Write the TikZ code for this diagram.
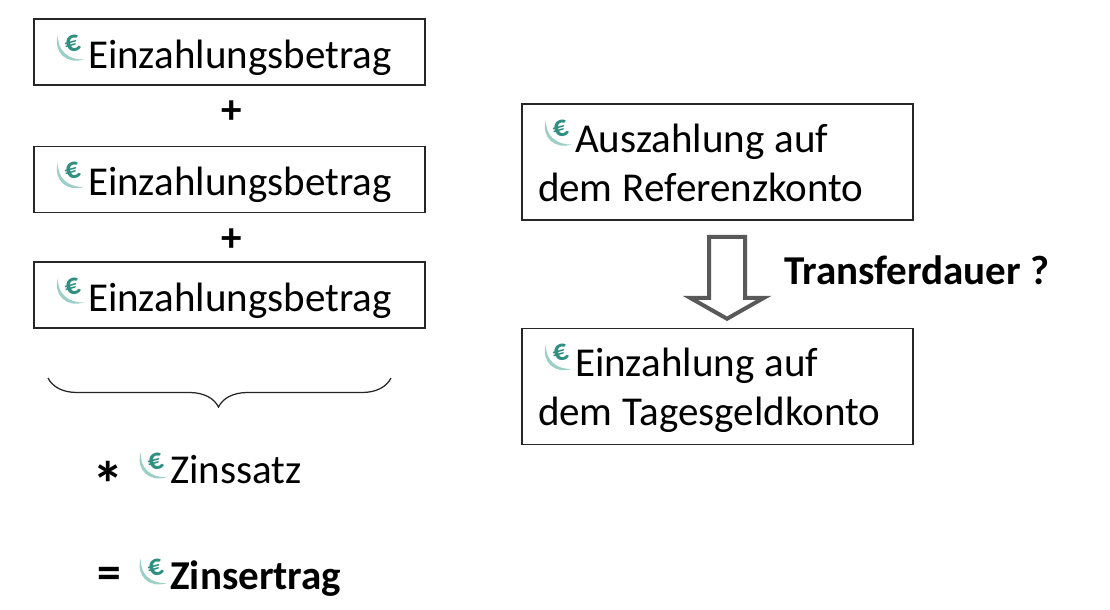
\documentclass[tikz,border=0pt]{standalone}
\usepackage{fontspec}
\setmainfont{Carlito}
\usetikzlibrary{positioning,calc,decorations.pathreplacing}
\definecolor{logoteal}{HTML}{2F8F80}
\definecolor{logolight}{HTML}{9CCFC6}
\newcommand{\bigtext}{\fontsize{23.35}{27.9}\selectfont}
\newcommand{\narrowspaces}{\spaceskip=5.8pt\relax}

\tikzset{
  amountbox/.style={draw=black!85, line width=0.03cm, minimum width=7.82cm, minimum height=1.32cm,
    text width=7.18cm, inner xsep=0.32cm, inner ysep=0pt, align=left, font=\bigtext,
    text height=0.64cm, text depth=0pt},
  twolinebox/.style={amountbox, minimum height=2.32cm, text height=0.8cm, text depth=1.2cm},
  plainlabel/.style={font=\bigtext, inner sep=0pt},
  boldlabel/.style={font=\bigtext\bfseries, inner sep=0pt},
  logo/.pic={
    \fill[logolight] (-0.24,0.28) .. controls (-0.36,-0.08) and (-0.06,-0.34) .. (0.28,-0.22)
      .. controls (-0.02,-0.25) and (-0.28,-0.04) .. (-0.24,0.28) -- cycle;
    \node[text=logoteal, font=\fontsize{17}{17}\selectfont\bfseries, inner sep=0pt, rotate=15] at (0.05,0.09) {€};
  }
}

\begin{document}
\begin{tikzpicture}
    \useasboundingbox (0,0) rectangle (22.2,-12.18);

    \node[amountbox] (betrag1) at (4.59,-1.04) {\hspace*{0.76cm}Einzahlungsbetrag};
    \node[amountbox, below = 1.2cm of betrag1] (betrag2) {\hspace*{0.76cm}Einzahlungsbetrag};
    \node[amountbox, below = 0.96cm of betrag2] (betrag3) {\hspace*{0.76cm}Einzahlungsbetrag};

    \node[boldlabel] (plus1) at ($(betrag1.south)!0.5!(betrag2.north)+(0.04,0.07)$) {+};
    \node[boldlabel] (plus2) at ($(betrag2.south)!0.5!(betrag3.north)+(0.04,-0.06)$) {+};

    \node[twolinebox] (auszahlung) at (14.35,-3.24) {\narrowspaces\hspace*{0.74cm}Auszahlung auf\\dem Referenzkonto};
    \node[twolinebox, below = 2.14cm of auszahlung] (einzahlung) {\narrowspaces\hspace*{0.74cm}Einzahlung auf\\dem Tagesgeldkonto};

    \pic at ($(betrag1.north west)+(0.74,-0.6)$) {logo};
    \pic at ($(betrag2.north west)+(0.74,-0.6)$) {logo};
    \pic at ($(betrag3.north west)+(0.74,-0.6)$) {logo};
    \pic at ($(auszahlung.north west)+(0.74,-0.6)$) {logo};
    \pic at ($(einzahlung.north west)+(0.74,-0.6)$) {logo};

    % brace under the three amounts
    \coordinate (braceL) at (0.96,-7.56);
    \coordinate (braceR) at (7.82,-7.56);
    \draw[black!85, line width=0.025cm, decorate, decoration={brace, mirror, amplitude=0.58cm, aspect=0.497}] (braceL) -- (braceR);

    \node[boldlabel, anchor=base west] (zinssatz) at (3.4,-9.66) {\mdseries Zinssatz};
    \node[boldlabel, anchor=base west] (zinsertrag) at (3.4,-11.78) {Zinsertrag};
    \node[boldlabel, font=\fontsize{36}{36}\selectfont\bfseries] (mal) at (2.16,-9.68) {*};
    \node[boldlabel, font=\fontsize{27}{27}\selectfont\bfseries] (gleich) at (2.18,-11.56) {=};
    \pic at ($(zinssatz.base west)+(-0.34,0.34)$) {logo};
    \pic at ($(zinsertrag.base west)+(-0.34,0.34)$) {logo};

    % hollow arrow between the accounts
    \coordinate (top) at ($(auszahlung.south)+(0.19,-0.32)$);
    \draw[black!65, line width=0.08cm, fill=white, miter limit=10]
      (top) -- ++(0.36,0) -- ++(0,-1.22) -- ++(0.38,0) -- ++(-0.74,-0.42) -- ++(-0.74,0.42) -- ++(0.38,0) -- ++(0,1.22) -- cycle;
    \node[boldlabel, anchor=base west] (dauer) at (15.68,-5.68) {Transferdauer ?};
\end{tikzpicture}
\end{document}
